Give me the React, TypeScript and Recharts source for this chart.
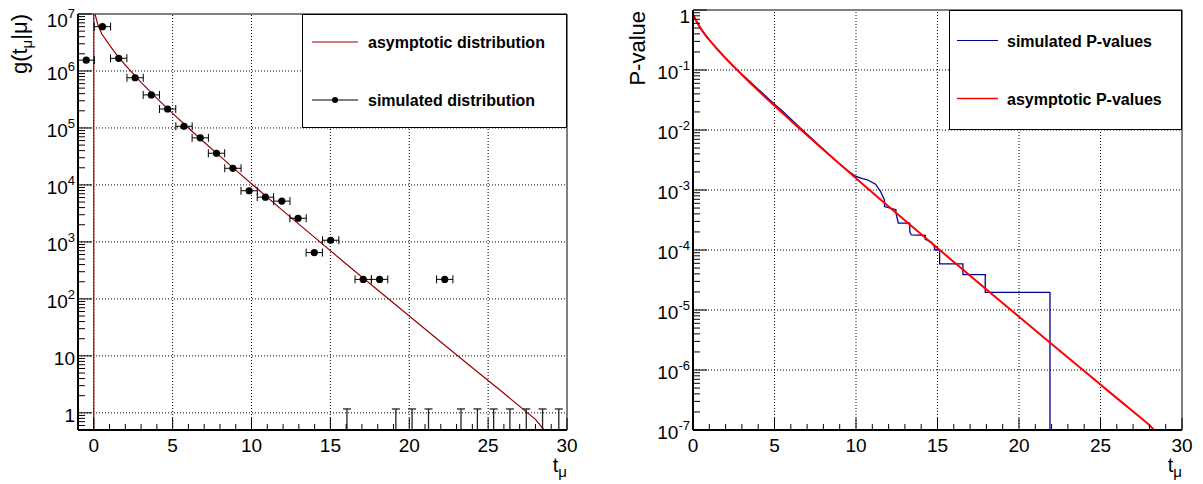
import React from "react";
import { ComposedChart, Line, Scatter, ErrorBar, XAxis, YAxis, ReferenceLine, Legend, Label } from "recharts";

const FONT = "'Liberation Sans', Arial, Helvetica, sans-serif";

// ---- left pad: g(t_mu | mu) ----
const simT = [-0.48, 0.55, 1.58, 2.62, 3.65, 4.68, 5.72, 6.75, 7.78, 8.82, 9.85, 10.88, 11.92, 12.95, 13.98, 15.02, 17.08, 18.12, 22.25];
const simG = [1.55e6, 6.0e6, 1.67e6, 7.6e5, 3.8e5, 2.15e5, 1.07e5, 6.7e4, 3.6e4, 1.96e4, 7.9e3, 6.1e3, 5.2e3, 2.6e3, 650, 1.07e3, 220, 220, 220];
const binHalfWidth = 0.517;
// empty bins: only the error bar from zero is visible
const emptyT = [16.05, 19.15, 20.18, 21.22, 23.28, 24.32, 25.35, 26.38, 27.42, 28.45, 29.48];
const emptyTop = 1.17;

const asymT = [0.08, 0.25, 0.5, 1, 1.5, 2, 3, 4, 5, 6, 7, 8, 9, 10, 12, 14, 16, 18, 20, 22, 24, 26, 28, 28.55];
const asymG = [1e7, 6.6e6, 4.5e6, 2.85e6, 1.85e6, 1.27e6, 6.3e5, 3.3e5, 1.8e5, 1.0e5, 5.6e4, 3.2e4, 1.82e4, 1.05e4, 3.5e3, 1.2e3, 410, 143, 50, 17.5, 6.2, 2.2, 0.77, 0.5];

// ---- right pad: P-values ----
const pT = [0, 0.25, 0.5, 0.75, 1, 1.5, 2, 2.5, 3, 3.5, 4, 5, 6, 7, 8, 9, 10, 12, 14, 16, 18, 20, 22, 24, 26, 28, 28.35, 30];
const pAsym = [0.84, 0.617, 0.48, 0.386, 0.317, 0.221, 0.157, 0.114, 0.0833, 0.0614, 0.0455, 0.0253, 0.0143, 0.00815, 0.00468, 0.0027, 0.00157, 5.32e-4, 1.83e-4, 6.33e-5, 2.2e-5, 7.74e-6, 2.72e-6, 9.6e-7, 3.4e-7, 1.21e-7, 1e-7, 1e-7];

const simPT = [0, 0.5, 1, 1.5, 2, 2.5, 3, 3.5, 4, 4.5, 5, 5.5, 6, 6.5, 7, 7.5, 8, 8.5, 9, 9.5, 10, 10.4, 10.7, 11.2, 11.5, 11.75, 11.75, 12.1, 12.45, 12.45, 12.6, 13.3, 13.3, 13.4, 14.25, 14.25, 14.6, 14.8, 14.85, 15.13, 15.13, 16.56, 16.56, 17.93, 17.93, 21.9, 21.9];
const simP = [0.84, 0.48, 0.318, 0.222, 0.158, 0.115, 0.085, 0.064, 0.048, 0.036, 0.027, 0.0205, 0.0152, 0.0113, 0.0085, 0.0064, 0.0048, 0.0036, 0.0027, 0.0021, 0.00168, 0.00155, 0.00148, 0.00125, 0.00095, 0.00068, 0.00053, 0.0005, 0.00047, 0.00041, 0.00028, 0.00028, 0.0002, 0.000178, 0.000175, 0.00015, 0.000137, 0.000115, 0.0001, 0.0001, 5.85e-5, 5.85e-5, 3.9e-5, 3.9e-5, 1.97e-5, 1.97e-5, 1e-7];

const zip = (xs: number[], ys: number[]) => xs.map((x, i) => ({ x, y: ys[i] }));

const simDist = simT.map((x, i) => ({ x, y: simG[i], ex: binHalfWidth }));
const emptyBins = emptyT.map((x) => ({ x, y: 0.5, ey: [0, emptyTop - 0.5] }));
const asymDist = zip(asymT, asymG);
const asymP = zip(pT, pAsym);
const simPvals = zip(simPT, simP);

// tick helpers
const logTicks = (lo: number, hi: number) => {
  const out: number[] = [];
  for (let e = lo; e < hi; e++) for (let m = 1; m < 10; m++) out.push(Number((m * Math.pow(10, e)).toPrecision(6)));
  out.push(Math.pow(10, hi));
  return out;
};
const isDecade = (v: number) => Math.abs(Math.log10(v) - Math.round(Math.log10(v))) < 1e-6;
const intTicks = Array.from({ length: 31 }, (_, i) => i);

const leftYTicks = logTicks(-1, 7).filter((v) => v >= 0.5);
const rightYTicks = logTicks(-7, 0);

const makeYTick = (plainTen: boolean, top: number) => (props: any) => {
  const { x, y, payload } = props;
  const v = payload.value;
  const major = isDecade(v);
  const e = Math.round(Math.log10(v));
  const shift = Math.abs(v - top) < 1e-12 * top ? 4 : 0;
  return (
    <g>
      <line x1={x} x2={x + (major ? 14 : 7)} y1={y} y2={y} stroke="#000" strokeWidth={1} />
      {major && (
        <text x={x - 3} y={y + 9 + shift} textAnchor="end" fontSize={19} fontFamily={FONT} fill="#000">
          {e === 0 ? "1" : plainTen && e === 1 ? "10" : (
            <>
              <tspan>10</tspan>
              <tspan dy={-9} fontSize={13}>{e}</tspan>
            </>
          )}
        </text>
      )}
    </g>
  );
};

const XTick = (props: any) => {
  const { x, y, payload } = props;
  const major = payload.value % 5 === 0;
  return (
    <g>
      <line x1={x} x2={x} y1={y} y2={y - (major ? 12 : 6)} stroke="#000" strokeWidth={1} />
      {major && (
        <text x={x} y={y + 22} textAnchor="middle" fontSize={19} fontFamily={FONT} fill="#000">
          {payload.value}
        </text>
      )}
    </g>
  );
};

const XTitle = (props: any) => {
  const { x, y, width } = props.viewBox;
  return (
    <text x={x + width} y={y + 42} textAnchor="end" fontSize={20} fontFamily={FONT} fill="#000">
      t<tspan dy={5} fontSize={15}>μ</tspan>
    </text>
  );
};

const LeftYTitle = (props: any) => {
  const { x, y } = props.viewBox;
  return (
    <text transform={`translate(${x + 27},${y}) rotate(-90)`} textAnchor="end" fontSize={22} fontFamily={FONT} fill="#000">
      g(t<tspan dy={5} fontSize={15}>μ</tspan><tspan dy={-5}>|μ)</tspan>
    </text>
  );
};

const RightYTitle = (props: any) => {
  const { x, y } = props.viewBox;
  return (
    <text transform={`translate(${x + 45},${y + 1}) rotate(-90)`} textAnchor="end" fontSize={22} fontFamily={FONT} fill="#000">
      P-value
    </text>
  );
};

const DARKRED = "#990000";
const BLUE = "#000099";
const RED = "#ff0000";
const grid = { stroke: "#000", strokeDasharray: "1 2", strokeWidth: 1, ifOverflow: "visible" as const };

const LeftLegend = () => (
  <svg width={265} height={114} style={{ display: "block" }}>
    <rect x={0.5} y={0.5} width={264} height={113} fill="#fff" stroke="#000" />
    <line x1={10} x2={56} y1={28} y2={28} stroke={DARKRED} strokeWidth={1.2} />
    <text x={66} y={34} fontSize={16} fontWeight="bold" fontFamily={FONT}>asymptotic distribution</text>
    <line x1={10} x2={56} y1={86} y2={86} stroke="#000" strokeWidth={1} />
    <circle cx={33} cy={86} r={3} fill="#000" />
    <text x={66} y={92} fontSize={16} fontWeight="bold" fontFamily={FONT}>simulated distribution</text>
  </svg>
);

const RightLegend = () => (
  <svg width={233} height={120} style={{ display: "block" }}>
    <rect x={0.5} y={0.5} width={232} height={119} fill="#fff" stroke="#000" />
    <line x1={8} x2={49} y1={30.5} y2={30.5} stroke={BLUE} strokeWidth={1.2} />
    <text x={58} y={36.5} fontSize={16} fontWeight="bold" fontFamily={FONT}>simulated P-values</text>
    <line x1={8} x2={49} y1={88.5} y2={88.5} stroke={RED} strokeWidth={1.5} />
    <text x={58} y={94.5} fontSize={16} fontWeight="bold" fontFamily={FONT}>asymptotic P-values</text>
  </svg>
);

export default function App() {
  return (
    <div style={{ position: "absolute", left: 0, top: 0, width: 1203, height: 484, background: "#fff" }}>
      <div style={{ position: "absolute", left: 0, top: 0 }}>
        <ComposedChart width={600} height={484} margin={{ top: 14, right: 33, left: 0, bottom: 0 }}>
          <XAxis
            type="number"
            dataKey="x"
            domain={[-1, 30]}
            ticks={intTicks}
            interval={0}
            allowDataOverflow
            height={54}
            tickSize={0}
            tickMargin={0}
            tickLine={false}
            tick={XTick}
            axisLine={{ stroke: "#000", strokeWidth: 2 }}
          >
            <Label content={XTitle} />
          </XAxis>
          <YAxis
            type="number"
            dataKey="y"
            scale="log"
            domain={[0.5, 1e7]}
            ticks={leftYTicks}
            interval={0}
            allowDataOverflow
            width={78}
            tickSize={0}
            tickMargin={0}
            tickLine={false}
            tick={makeYTick(true, 1e7)}
            axisLine={{ stroke: "#000", strokeWidth: 2 }}
          >
            <Label content={LeftYTitle} />
          </YAxis>
          {[0, 5, 10, 15, 20, 25].map((v) => (
            <ReferenceLine key={`gx${v}`} x={v} {...grid} />
          ))}
          {[1, 10, 100, 1e3, 1e4, 1e5, 1e6].map((v) => (
            <ReferenceLine key={`gy${v}`} y={v} {...grid} />
          ))}
          <ReferenceLine y={1e7} stroke="#000" strokeWidth={1} ifOverflow="visible" />
          <ReferenceLine x={30} stroke="#000" strokeWidth={1} ifOverflow="visible" />
          <ReferenceLine x={0} stroke={DARKRED} strokeWidth={1.2} ifOverflow="visible" />
          <Line data={asymDist} dataKey="y" type="linear" stroke={DARKRED} strokeWidth={1.2} dot={false} isAnimationActive={false} />
          <Scatter data={emptyBins} dataKey="y" isAnimationActive={false} shape={() => <g />}>
            <ErrorBar dataKey="ey" direction="y" width={4} stroke="#222" strokeWidth={1.3} />
          </Scatter>
          <Scatter
            data={simDist}
            dataKey="y"
            isAnimationActive={false}
            shape={(p: any) => <circle cx={p.cx} cy={p.cy} r={3.6} fill="#000" />}
          >
            <ErrorBar dataKey="ex" direction="x" width={4} stroke="#000" strokeWidth={1} />
          </Scatter>
          <Legend
            layout="vertical"
            align="center"
            verticalAlign="middle"
            content={LeftLegend}
            wrapperStyle={{ left: 302, top: 14, width: 265, height: 114 }}
          />
        </ComposedChart>
      </div>
      <div style={{ position: "absolute", left: 600, top: 0 }}>
        <ComposedChart width={603} height={484} margin={{ top: 10, right: 21, left: 0, bottom: 0 }}>
          <XAxis
            type="number"
            dataKey="x"
            domain={[0, 30]}
            ticks={intTicks}
            interval={0}
            allowDataOverflow
            height={54}
            tickSize={0}
            tickMargin={0}
            tickLine={false}
            tick={XTick}
            axisLine={{ stroke: "#000", strokeWidth: 2 }}
          >
            <Label content={XTitle} />
          </XAxis>
          <YAxis
            type="number"
            dataKey="y"
            scale="log"
            domain={[1e-7, 1]}
            ticks={rightYTicks}
            interval={0}
            allowDataOverflow
            width={93}
            tickSize={0}
            tickMargin={0}
            tickLine={false}
            tick={makeYTick(false, 1)}
            axisLine={{ stroke: "#000", strokeWidth: 2 }}
          >
            <Label content={RightYTitle} />
          </YAxis>
          {[5, 10, 15, 20, 25].map((v) => (
            <ReferenceLine key={`gx${v}`} x={v} {...grid} />
          ))}
          {[1e-6, 1e-5, 1e-4, 1e-3, 1e-2, 1e-1].map((v) => (
            <ReferenceLine key={`gy${v}`} y={v} {...grid} />
          ))}
          <ReferenceLine y={1} stroke="#000" strokeWidth={1} ifOverflow="visible" />
          <ReferenceLine x={30} stroke="#000" strokeWidth={1} ifOverflow="visible" />
          <Line data={simPvals} dataKey="y" type="linear" stroke={BLUE} strokeWidth={1.3} dot={false} isAnimationActive={false} />
          <Line data={asymP} dataKey="y" type="monotone" stroke={RED} strokeWidth={2} dot={false} isAnimationActive={false} />
          <Legend
            layout="vertical"
            align="center"
            verticalAlign="middle"
            content={RightLegend}
            wrapperStyle={{ left: 349, top: 10, width: 233, height: 120 }}
          />
        </ComposedChart>
      </div>
    </div>
  );
}
